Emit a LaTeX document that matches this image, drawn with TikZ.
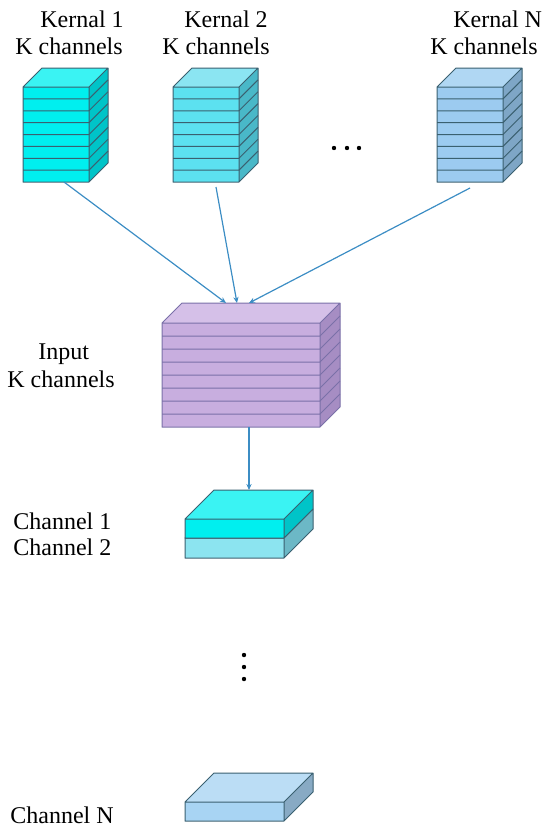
\documentclass[tikz,border=0pt]{standalone}
\usepackage{fontspec}
\setmainfont{Liberation Serif}
\usetikzlibrary{arrows.meta}

% face colours: front, top, side
\definecolor{kone-front}{HTML}{00EFEF}
\definecolor{kone-top}{HTML}{3AF3F3}
\definecolor{kone-side}{HTML}{00C4C8}
\definecolor{ktwo-front}{HTML}{5CE1F0}
\definecolor{ktwo-top}{HTML}{8BE5F2}
\definecolor{ktwo-side}{HTML}{49B8C8}
\definecolor{kn-front}{HTML}{9CCBF0}
\definecolor{kn-top}{HTML}{B0D7F3}
\definecolor{kn-side}{HTML}{7EA6C6}
\definecolor{inp-front}{HTML}{C8AEDF}
\definecolor{inp-top}{HTML}{D5C0E8}
\definecolor{inp-side}{HTML}{A68DC3}
\definecolor{chtwo-front}{HTML}{8CE4F0}
\definecolor{chtwo-top}{HTML}{A8EAF4}
\definecolor{chtwo-side}{HTML}{6CB8C6}
\definecolor{chn-front}{HTML}{A8D4F3}
\definecolor{chn-top}{HTML}{BBDDF5}
\definecolor{chn-side}{HTML}{88AAC4}
\definecolor{edgedark}{HTML}{3A6070}
\definecolor{edgepurple}{HTML}{7A70A8}
\definecolor{arrowblue}{HTML}{3C8DC4}

% #1,#2 front top left, #3 width, #4 height, #5 depth, #6 layers, #7 colour prefix, #8 edge colour
\newcommand{\layerbox}[8]{%
  \fill[#7-front] (#1,#2) rectangle ({#1+#3},{#2+#4});
  \fill[#7-top] (#1,#2) -- ({#1+#5},{#2-#5}) -- ({#1+#3+#5},{#2-#5}) -- ({#1+#3},#2) -- cycle;
  \fill[#7-side] ({#1+#3},#2) -- ({#1+#3+#5},{#2-#5}) -- ({#1+#3+#5},{#2+#4-#5}) -- ({#1+#3},{#2+#4}) -- cycle;
  \draw[#8, line width=.5pt, line join=round] (#1,#2) rectangle ({#1+#3},{#2+#4})
    (#1,#2) -- ({#1+#5},{#2-#5}) -- ({#1+#3+#5},{#2-#5}) -- ({#1+#3},#2)
    ({#1+#3+#5},{#2-#5}) -- ({#1+#3+#5},{#2+#4-#5}) -- ({#1+#3},{#2+#4});
  \ifnum#6>1
    \foreach \i in {1,...,\numexpr#6-1\relax}{
      \draw[#8, line width=.5pt] (#1,{#2+\i*#4/#6}) -- ({#1+#3},{#2+\i*#4/#6}) -- ({#1+#3+#5},{#2+\i*#4/#6-#5});
    }
  \fi
}

\tikzset{
  lbl/.style={anchor=base west, inner sep=0pt, font=\fontsize{12}{13.5}\selectfont},
  arr/.style={arrowblue, line width=.6pt, -{Stealth[length=3pt,width=2.6pt]}},
  dot/.style={circle, fill, inner sep=0pt, minimum size=2.2pt}
}

\begin{document}
\begin{tikzpicture}[x=.5pt, y=-.5pt]
\useasboundingbox (0,0) rectangle (550,836);

% kernels
\layerbox{23}{87}{66}{95}{19}{8}{kone}{edgedark}
\layerbox{173}{87}{66}{95}{19}{8}{ktwo}{edgedark}
\layerbox{437}{87}{66}{95}{19}{8}{kn}{edgedark}
\node[lbl] (k1a) at (40,27) {Kernal 1};
\node[lbl] (k1b) at (15,54) {K channels};
\node[lbl] (k2a) at (184,27) {Kernal 2};
\node[lbl] (k2b) at (162,54) {K channels};
\node[lbl] (kna) at (453,27) {Kernal N};
\node[lbl] (knb) at (430,54) {K channels};
\node[dot] (h1) at (334,148) {};
\node[dot] (h2) at (347,148) {};
\node[dot] (h3) at (359,148) {};

% input
\layerbox{162}{323}{158}{104}{20}{8}{inp}{edgepurple}
\node[lbl] (ina) at (38,359) {Input};
\node[lbl] (inb) at (7,387) {K channels};

% outputs
\layerbox{185}{538}{99}{20}{29}{1}{chtwo}{edgedark}
\layerbox{185}{519}{99}{19}{29}{1}{kone}{edgedark}
\layerbox{185}{802}{99}{19}{29}{1}{chn}{edgedark}
\node[lbl] (c1) at (13,529) {Channel 1};
\node[lbl] (c2) at (13,555) {Channel 2};
\node[lbl] (cn) at (10,823) {Channel N};
\node[dot] (v1) at (244,655) {};
\node[dot] (v2) at (244,667) {};
\node[dot] (v3) at (244,679) {};

% connectors
\coordinate (k1out) at (64,182);
\coordinate (k2out) at (216,187);
\coordinate (knout) at (470,188);
\coordinate (in1) at (226,303);
\coordinate (in2) at (237,303);
\coordinate (in3) at (249,303);
\coordinate (inout) at (249,427);
\coordinate (chin) at (249,490);
\draw[arr] (k1out) -- (in1);
\draw[arr] (k2out) -- (in2);
\draw[arr] (knout) -- (in3);
\draw[arr] (inout) -- (chin);
\end{tikzpicture}
\end{document}
